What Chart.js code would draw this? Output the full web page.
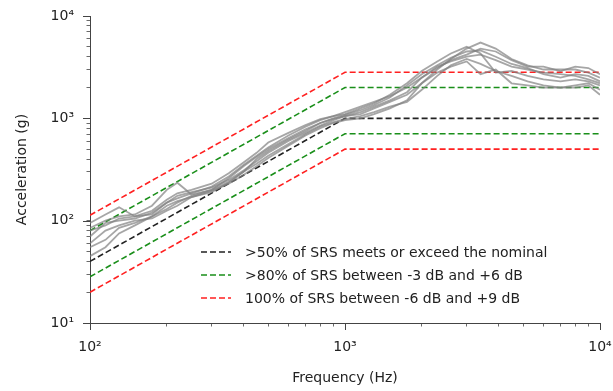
<!DOCTYPE html>
<html>
<head>
<meta charset="utf-8">
<script src="https://cdn.jsdelivr.net/npm/chart.js@4"></script>
<style>
  body { margin: 0; background: #fff; }
  #wrap { position: relative; width: 613px; height: 391px; }
  #legend { position: absolute; left: 200px; top: 240px; font-family: 'DejaVu Sans', sans-serif; font-size: 14px; color: #222; }
  #legend .row { height: 23px; display: flex; align-items: center; white-space: nowrap; }
  #legend svg { margin-right: 13px; }
</style>
</head>
<body>
<div id="wrap">
  <canvas id="grafico"></canvas>
  <div id="legend"></div>
</div>
<script>
// --- datos (frecuencia en Hz, aceleración en g) ---
const freq = [100, 115, 130, 150, 175, 200, 220, 250, 300, 350, 400, 450, 500, 600, 700, 800, 900, 1000,
  1150, 1300, 1500, 1750, 2000, 2300, 2600, 3000, 3400, 3900, 4500, 5200, 6000, 7000, 8000, 9000, 10000];

const srs1 = [85, 100, 110, 115, 140, 200, 235, 180, 200, 260, 340, 420, 500, 640, 780, 900, 1000, 1080,
  1200, 1350, 1600, 2100, 2700, 3300, 3900, 4500, 4600, 4000, 3400, 3100, 2700, 2500, 2700, 2600, 2300];
const srs2 = [95, 115, 135, 110, 115, 150, 175, 190, 210, 250, 310, 380, 460, 600, 720, 850, 960, 1050,
  1100, 1250, 1450, 1700, 2200, 3000, 3800, 4800, 5500, 4800, 3800, 3300, 3000, 3000, 3000, 2800, 2500];
const srs3 = [45, 55, 75, 90, 110, 130, 150, 175, 200, 240, 300, 360, 430, 560, 700, 830, 920, 980,
  1050, 1150, 1300, 1450, 1900, 2600, 3300, 3800, 3400, 2900, 2600, 2300, 2100, 2000, 2100, 2200, 1900];
const srs4 = [70, 95, 100, 105, 120, 150, 165, 185, 215, 270, 350, 430, 520, 680, 830, 960, 1050, 1100,
  1250, 1400, 1700, 2200, 2900, 3600, 4300, 5000, 4300, 2800, 2900, 2600, 2400, 2300, 2400, 2300, 2100];
const srs5 = [60, 80, 90, 100, 105, 125, 140, 170, 195, 230, 280, 340, 410, 540, 680, 800, 900, 960,
  1000, 1100, 1250, 1500, 2200, 2800, 3200, 3600, 2700, 3000, 2200, 2100, 2000, 2000, 2000, 2100, 1700];
const srs6 = [80, 90, 105, 110, 125, 160, 185, 200, 230, 290, 370, 460, 580, 720, 860, 980, 1050, 1150,
  1300, 1450, 1650, 2000, 2500, 3100, 3700, 4200, 4800, 4500, 3700, 3200, 3200, 2900, 3200, 3100, 2700];
const srs7 = [55, 65, 85, 95, 110, 140, 155, 170, 190, 235, 300, 400, 480, 620, 750, 900, 990, 1050,
  1150, 1300, 1500, 1800, 2500, 3200, 3600, 4000, 4200, 3700, 3200, 3000, 2800, 2700, 2600, 2400, 2200];
const srsCurvas = [srs1, srs2, srs3, srs4, srs5, srs6, srs7];

// perfil de referencia: nominal y tolerancias (-3/+6 dB, -6/+9 dB)
const refFreq = [100, 1000, 10000];
const nominal = [40, 1000, 1000];
const verdeBajo = [28.3, 708, 708];
const verdeAlto = [80, 2000, 2000];
const rojoBajo = [20, 500, 500];
const rojoAlto = [113, 2818, 2818];

const leyenda = [
  { texto: '>50% of SRS meets or exceed the nominal', color: '#222222' },
  { texto: '>80% of SRS between -3 dB and +6 dB', color: '#1a8f1a' },
  { texto: '100% of SRS between -6 dB and +9 dB', color: '#ff2020' }
];

const sup = { 1: '\u00b9', 2: '\u00b2', 3: '\u00b3', 4: '\u2074' };

// helpers
function puntos(xs, ys) {
  return xs.map((x, i) => ({ x: x, y: ys[i] }));
}
function ticksLog(scale) {
  const t = [];
  for (let e = Math.round(Math.log10(scale.min)); e < Math.round(Math.log10(scale.max)); e++) {
    for (let m = 1; m < 10; m++) t.push({ value: m * Math.pow(10, e) });
  }
  t.push({ value: scale.max });
  scale.ticks = t;
}
function esMayor(v) {
  const l = Math.log10(v);
  return Math.abs(l - Math.round(l)) < 1e-9;
}
function etiqueta(v) {
  return esMayor(v) ? '10' + sup[Math.round(Math.log10(v))] : '';
}

const fuente = { family: 'DejaVu Sans', size: 14 };
const TICK_MENOR = 3.5;
const TICK_MAYOR = 7;

const datasets = [];
srsCurvas.forEach(c => {
  datasets.push({ data: puntos(freq, c), borderColor: 'rgba(128,128,128,0.7)', borderWidth: 1.8, pointRadius: 0 });
});
function refLinea(ys, color) {
  return { data: puntos(refFreq, ys), borderColor: color, borderWidth: 1.6, borderDash: [6, 3], pointRadius: 0 };
}
datasets.push(refLinea(nominal, leyenda[0].color));
datasets.push(refLinea(verdeBajo, leyenda[1].color));
datasets.push(refLinea(verdeAlto, leyenda[1].color));
datasets.push(refLinea(rojoBajo, leyenda[2].color));
datasets.push(refLinea(rojoAlto, leyenda[2].color));

function gridEje() {
  return { display: true, drawOnChartArea: false, drawTicks: true, tickLength: TICK_MENOR, tickColor: '#444', tickWidth: 0.8 };
}

// alarga las marcas de las décadas (matplotlib: mayores 7px, menores 3.5px)
const ticksMayores = {
  id: 'ticksMayores',
  afterDraw(chart) {
    const ctx = chart.ctx;
    const sx = chart.scales.x, sy = chart.scales.y;
    ctx.save();
    ctx.strokeStyle = '#444';
    ctx.lineWidth = 1;
    sx.ticks.forEach(t => {
      if (!esMayor(t.value)) return;
      const px = Math.round(sx.getPixelForValue(t.value)) + 0.5;
      ctx.beginPath(); ctx.moveTo(px, sx.top); ctx.lineTo(px, sx.top + TICK_MAYOR); ctx.stroke();
    });
    sy.ticks.forEach(t => {
      if (!esMayor(t.value)) return;
      const py = Math.round(sy.getPixelForValue(t.value)) + 0.5;
      ctx.beginPath(); ctx.moveTo(sy.right, py); ctx.lineTo(sy.right - TICK_MAYOR, py); ctx.stroke();
    });
    ctx.restore();
  }
};

new Chart(document.getElementById('grafico'), {
  type: 'line',
  data: { datasets: datasets },
  options: {
    responsive: true,
    maintainAspectRatio: false,
    animation: false,
    layout: { padding: { left: 0, right: 13, top: 16, bottom: 0 } },
    plugins: { legend: { display: false }, tooltip: { enabled: false } },
    scales: {
      x: {
        type: 'logarithmic',
        min: 100, max: 10000,
        afterBuildTicks: ticksLog,
        afterFit: s => { s.height = 68; s.paddingLeft = 0; s.paddingRight = 0; },
        grid: gridEje(),
        border: { display: true, color: '#444', width: 1 },
        ticks: { autoSkip: false, maxRotation: 0, padding: 12.5, color: '#222', font: fuente, callback: etiqueta },
        title: { display: true, text: 'Frequency (Hz)', color: '#222', font: fuente, padding: { top: 0, bottom: 4.6 } }
      },
      y: {
        type: 'logarithmic',
        min: 10, max: 10000,
        afterBuildTicks: ticksLog,
        afterFit: s => { s.width = 90; s.paddingTop = 0; s.paddingBottom = 0; },
        grid: gridEje(),
        border: { display: true, color: '#444', width: 1 },
        ticks: { autoSkip: false, padding: 12.5, color: '#222', font: fuente, callback: etiqueta },
        title: { display: true, text: 'Acceleration (g)', color: '#222', font: fuente, padding: { top: 13.6, bottom: 0 } }
      }
    }
  },
  plugins: [ticksMayores]
});

// leyenda en HTML (solo las tres referencias)
const cajaLeyenda = document.getElementById('legend');
leyenda.forEach(l => {
  const fila = document.createElement('div');
  fila.className = 'row';
  fila.innerHTML = '<svg width="32" height="10"><line x1="1" y1="5" x2="31" y2="5" stroke="' + l.color +
    '" stroke-width="1.6" stroke-dasharray="6,3"/></svg><span></span>';
  fila.querySelector('span').textContent = l.texto;
  cajaLeyenda.appendChild(fila);
});
</script>
</body>
</html>
